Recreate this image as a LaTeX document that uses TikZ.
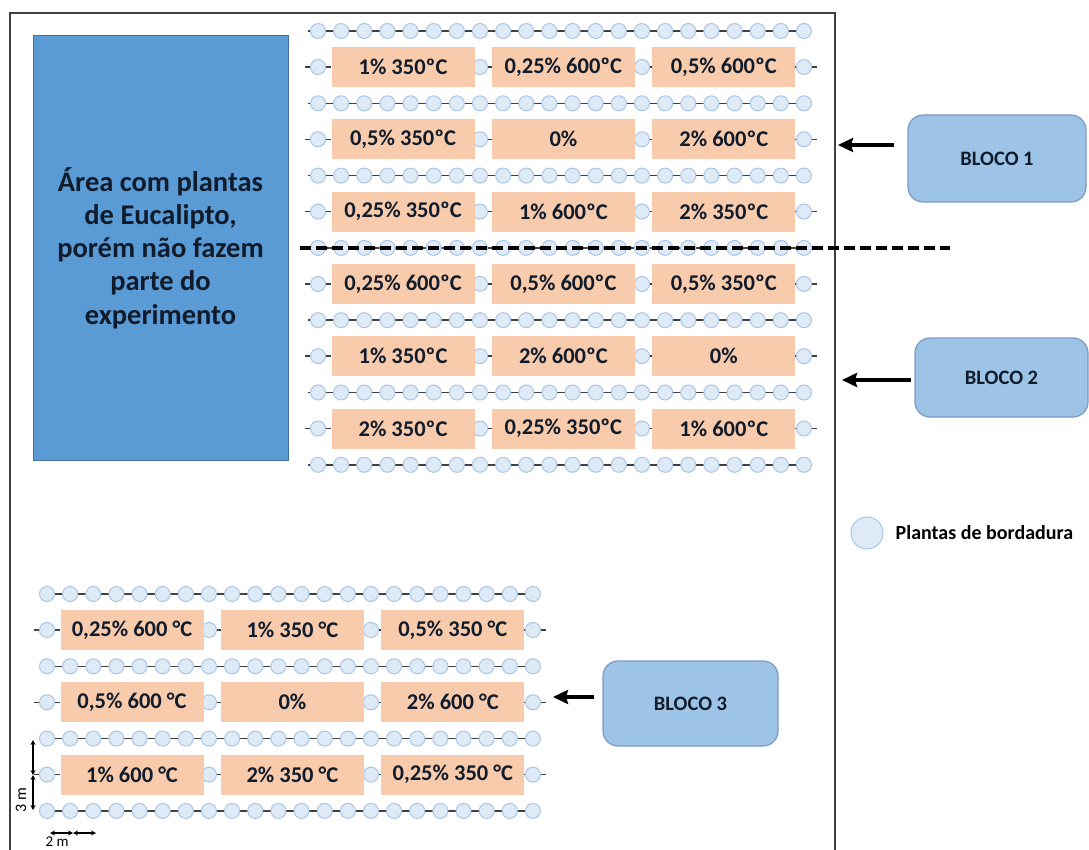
\documentclass[tikz,border=0pt]{standalone}
\usepackage{fontspec}
\setmainfont{Carlito}
\usepackage{tikz}
\usetikzlibrary{positioning}
\usetikzlibrary{arrows.meta}

\definecolor{areablue}{HTML}{5B9BD5}
\definecolor{areaedge}{HTML}{41719C}
\definecolor{plotfill}{HTML}{F8CBAD}
\definecolor{dotfill}{HTML}{DEEBF7}
\definecolor{dotedge}{HTML}{A9C5E6}
\definecolor{blockfill}{HTML}{9DC3E6}
\definecolor{blockedge}{HTML}{7A9AC4}
\definecolor{darktext}{HTML}{101B2B}
\definecolor{framegray}{HTML}{404040}

\begin{document}
\begin{tikzpicture}[x=1pt, y=-1pt,
    bordernode/.style={circle, draw=dotedge, fill=dotfill, line width=1pt,
      minimum size=15pt, inner sep=0pt},
    plotnode/.style={rectangle, fill=plotfill, minimum width=143pt,
      minimum height=40pt, inner sep=0pt, text=darktext,
      font=\bfseries\fontsize{22.5}{25}\selectfont},
    blocknode/.style={rectangle, rounded corners=15pt, draw=blockedge,
      fill=blockfill, line width=1.2pt, inner sep=0pt, text=darktext,
      font=\bfseries\fontsize{20.5}{24}\selectfont},
    rowline/.style={draw=framegray, line width=1.5pt},
    blockarrow/.style={line width=4pt, -{Stealth[length=15pt, width=14pt, inset=2pt]}},
    sizearrow/.style={line width=1.2pt,
      {Stealth[length=5pt, width=5pt]}-{Stealth[length=5pt, width=5pt]}}]
    \useasboundingbox (0,0) rectangle (1089,850);
    % frame of the field
    \draw[framegray, line width=2pt] (10,850) -- (10,13) -- (835,13) -- (835,850);
    \node[rectangle, draw=areaedge, fill=areablue, line width=1pt,
      minimum width=255pt, minimum height=424pt, align=center, text=darktext,
      font=\bfseries\fontsize{28.5}{33.2}\selectfont] (euc_area) at (160.5,248)
      {Área com plantas\\de Eucalipto,\\porém não fazem\\parte do\\experimento};
    % border rows, blocks 1 and 2
    \foreach \k in {0,...,6}{
      \draw[rowline] (308,31+72.3*\k) -- (812,31+72.3*\k);
      \foreach \i in {0,...,21}
        \node[bordernode] (tb_\k_\i) at (318+23.14*\i,31+72.3*\k) {};
    }
    \foreach \k in {0,...,5}
      \foreach \j in {0,...,3}{
        \draw[rowline] (305+161.98*\j,67+72.3*\k) -- (331+161.98*\j,67+72.3*\k);
        \node[bordernode] (tp_\k_\j) at (318+161.98*\j,67+72.3*\k) {};
      }
    % border rows, block 3
    \foreach \k in {0,...,3}{
      \draw[rowline] (47,594+72.3*\k) -- (537,594+72.3*\k);
      \foreach \i in {0,...,21}
        \node[bordernode] (bb_\k_\i) at (47+23.14*\i,594+72.3*\k) {};
    }
    \foreach \k in {0,...,2}
      \foreach \j in {0,...,3}{
        \draw[rowline] (34+161.98*\j,630+72.3*\k) -- (60+161.98*\j,630+72.3*\k);
        \node[bordernode] (bp_\k_\j) at (47+161.98*\j,630+72.3*\k) {};
      }
    % plots of block 1
    \node[plotnode] (r1_a) at (403,67) {1\% 350ºC};
    \node[plotnode, right=17pt of r1_a] (r1_b) {0,25\% 600ºC};
    \node[plotnode, right=17pt of r1_b] (r1_c) {0,5\% 600ºC};
    \node[plotnode] (r2_a) at (403,139.3) {0,5\% 350ºC};
    \node[plotnode, right=17pt of r2_a] (r2_b) {0\%};
    \node[plotnode, right=17pt of r2_b] (r2_c) {2\% 600ºC};
    \node[plotnode] (r3_a) at (403,211.6) {0,25\% 350ºC};
    \node[plotnode, right=17pt of r3_a] (r3_b) {1\% 600ºC};
    \node[plotnode, right=17pt of r3_b] (r3_c) {2\% 350ºC};
    % plots of block 2
    \node[plotnode] (r4_a) at (403,283.9) {0,25\% 600ºC};
    \node[plotnode, right=17pt of r4_a] (r4_b) {0,5\% 600ºC};
    \node[plotnode, right=17pt of r4_b] (r4_c) {0,5\% 350ºC};
    \node[plotnode] (r5_a) at (403,356.2) {1\% 350ºC};
    \node[plotnode, right=17pt of r5_a] (r5_b) {2\% 600ºC};
    \node[plotnode, right=17pt of r5_b] (r5_c) {0\%};
    \node[plotnode] (r6_a) at (403,428.5) {2\% 350ºC};
    \node[plotnode, right=17pt of r6_a] (r6_b) {0,25\% 350ºC};
    \node[plotnode, right=17pt of r6_b] (r6_c) {1\% 600ºC};
    % plots of block 3
    \node[plotnode] (r7_a) at (132,630) {0,25\% 600 °C};
    \node[plotnode, right=17pt of r7_a] (r7_b) {1\% 350 °C};
    \node[plotnode, right=17pt of r7_b] (r7_c) {0,5\% 350 °C};
    \node[plotnode] (r8_a) at (132,702.3) {0,5\% 600 °C};
    \node[plotnode, right=17pt of r8_a] (r8_b) {0\%};
    \node[plotnode, right=17pt of r8_b] (r8_c) {2\% 600 °C};
    \node[plotnode] (r9_a) at (132,774.6) {1\% 600 °C};
    \node[plotnode, right=17pt of r9_a] (r9_b) {2\% 350 °C};
    \node[plotnode, right=17pt of r9_b] (r9_c) {0,25\% 350 °C};
    % limit between block 1 and block 2
    \draw[line width=3.5pt, dash pattern=on 11pt off 5pt] (300,248) -- (950,248);
    % block labels
    \node[blocknode, minimum width=178pt, minimum height=87pt] (blk1) at (997,158.5) {BLOCO 1};
    \node[blocknode, minimum width=173pt, minimum height=79pt] (blk2) at (1001.5,377.5) {BLOCO 2};
    \node[blocknode, minimum width=175pt, minimum height=85pt] (blk3) at (690.5,703.5) {BLOCO 3};
    \coordinate (b1_tip) at (838,145);
    \coordinate (b2_tip) at (842,380);
    \coordinate (b3_tip) at (553,697);
    \draw[blockarrow] (blk1.west |- b1_tip) ++(-13,0) -- (b1_tip);
    \draw[blockarrow] (blk2.west |- b2_tip) ++(-3,0) -- (b2_tip);
    \draw[blockarrow] (blk3.west |- b3_tip) ++(-8,0) -- (b3_tip);
    % legend
    \node[bordernode, minimum size=32pt] (legend_dot) at (867,533) {};
    \node[inner sep=0pt, text=black, font=\bfseries\fontsize{20}{24}\selectfont,
      right=12pt of legend_dot] (legend_txt) {Plantas de bordadura};
    % spacing marks
    \coordinate (dim_v0) at (33,740);
    \coordinate (dim_v1) at (33,775);
    \coordinate (dim_v2) at (33,810);
    \draw[sizearrow] (dim_v0) -- (dim_v1);
    \draw[sizearrow] (dim_v1) -- (dim_v2);
    \node[rotate=90, inner sep=0pt, font=\fontsize{16}{18}\selectfont] (dim_v_txt) at (21,800) {3 m};
    \coordinate (dim_h0) at (50,833);
    \coordinate (dim_h1) at (73,833);
    \coordinate (dim_h2) at (96,833);
    \draw[sizearrow] (dim_h0) -- (dim_h1);
    \draw[sizearrow] (dim_h1) -- (dim_h2);
    \node[inner sep=0pt, font=\fontsize{15}{17}\selectfont] (dim_h_txt) at (57,842) {2 m};
  \end{tikzpicture}
\end{document}
